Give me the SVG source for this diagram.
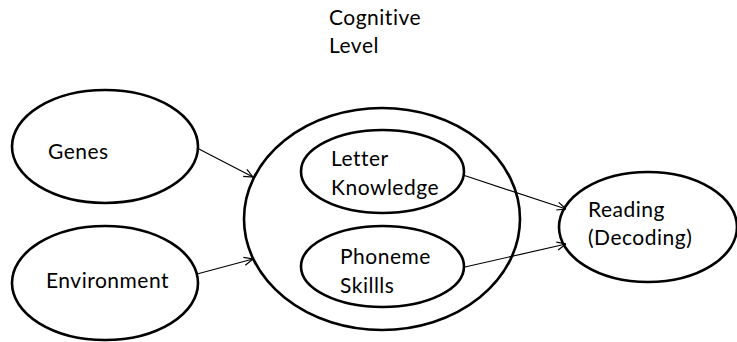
<svg xmlns="http://www.w3.org/2000/svg" width="737" height="342" viewBox="0 0 737 342">
<defs>
<style>
.n{fill:#fff;stroke:#000;stroke-width:2.6}
.t{font-family:Lato,"Open Sans","Liberation Sans",sans-serif;font-size:21px;letter-spacing:0.5px;font-variant-ligatures:none;fill:#000}
.c{fill:none;stroke:#000;stroke-width:1.2}
</style>
<marker id="a" viewBox="0 0 10 10" refX="10" refY="5" markerWidth="10" markerHeight="10" markerUnits="userSpaceOnUse" orient="auto">
<path d="M1,1 L10,5 L1,9" fill="none" stroke="#000" stroke-width="1.2"/>
</marker>
</defs>
<rect width="737" height="342" fill="#fff"/>
<g id="cognitive-label">
<text class="t" x="329" y="25">Cognitive</text>
<text class="t" x="329" y="53">Level</text>
</g>
<g id="cognitive-level">
<ellipse class="n" cx="382" cy="219" rx="138" ry="111"/>
</g>
<g id="genes">
<ellipse class="n" cx="105" cy="146.5" rx="93" ry="56.5"/>
<text class="t" x="48" y="159">Genes</text>
</g>
<g id="environment">
<ellipse class="n" cx="105" cy="283" rx="93" ry="57"/>
<text class="t" x="46" y="288">Environment</text>
</g>
<g id="letter-knowledge">
<ellipse class="n" cx="382.5" cy="171.5" rx="81.5" ry="41.5"/>
<text class="t" x="331" y="166">Letter</text>
<text class="t" x="331" y="195">Knowledge</text>
</g>
<g id="phoneme-skills">
<ellipse class="n" cx="382.5" cy="266.5" rx="81.5" ry="40.5"/>
<text class="t" x="340" y="264">Phoneme</text>
<text class="t" x="340" y="293">Skillls</text>
</g>
<g id="reading">
<ellipse class="n" cx="648" cy="227" rx="89" ry="55"/>
<text class="t" x="588" y="217">Reading</text>
<text class="t" x="588" y="245">(Decoding)</text>
</g>
<g id="connectors">
<line class="c" x1="197" y1="148" x2="253" y2="177" marker-end="url(#a)"/>
<line class="c" x1="197" y1="274" x2="253" y2="259" marker-end="url(#a)"/>
<line class="c" x1="463" y1="175" x2="566" y2="209" marker-end="url(#a)"/>
<line class="c" x1="465" y1="267" x2="566" y2="244" marker-end="url(#a)"/>
</g>
</svg>
